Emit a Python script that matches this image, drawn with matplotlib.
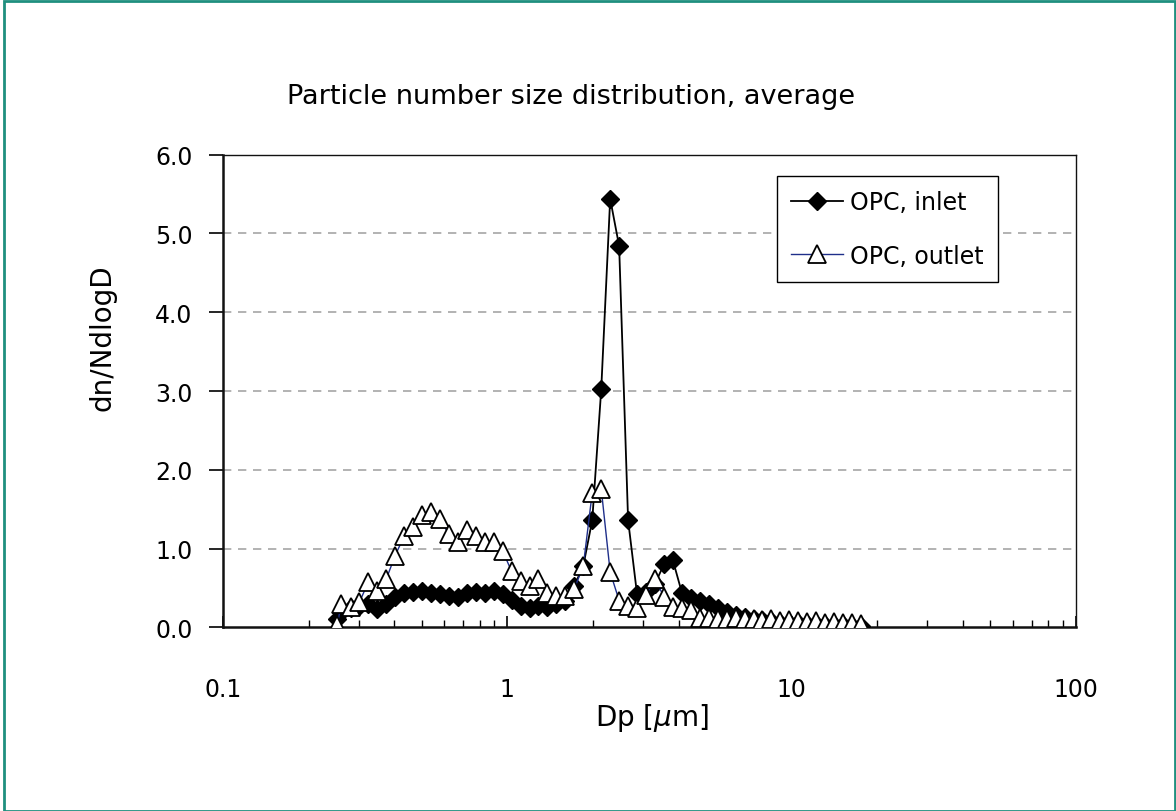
import matplotlib
matplotlib.use("Agg")
import matplotlib.pyplot as plt
from matplotlib.ticker import LogLocator, NullFormatter, FixedLocator, FixedFormatter
from matplotlib.patches import Rectangle

# Particle diameter channels [um]
dp = [0.252, 0.261, 0.281, 0.302, 0.324, 0.349, 0.375, 0.403, 0.434, 0.466,
      0.501, 0.539, 0.580, 0.623, 0.670, 0.721, 0.775, 0.833, 0.896, 0.963,
      1.035, 1.113, 1.197, 1.287, 1.384, 1.488, 1.600, 1.721, 1.850, 1.989,
      2.139, 2.300, 2.473, 2.659, 2.859, 3.074, 3.306, 3.554, 3.822, 4.110,
      4.419, 4.751, 5.109, 5.493, 5.907, 6.351, 6.829, 7.343, 7.895, 8.490,
      9.128, 9.815, 10.55, 11.35, 12.20, 13.12, 14.11, 15.17, 16.31, 17.54]

inlet = [0.11, 0.20, 0.25, 0.27, 0.30, 0.23, 0.30, 0.38, 0.44, 0.45,
         0.46, 0.44, 0.42, 0.40, 0.38, 0.43, 0.45, 0.44, 0.46, 0.42,
         0.35, 0.27, 0.25, 0.27, 0.26, 0.29, 0.34, 0.53, 0.78, 1.36,
         3.02, 5.44, 4.84, 1.36, 0.42, 0.45, 0.55, 0.80, 0.85, 0.44,
         0.37, 0.34, 0.30, 0.24, 0.20, 0.16, 0.13, 0.11, 0.09, 0.08,
         0.06, 0.05, 0.05, 0.04, 0.04, 0.03, 0.03, 0.03, 0.02, 0.02]

outlet = [0.03, 0.30, 0.26, 0.32, 0.57, 0.46, 0.61, 0.91, 1.16, 1.27,
          1.42, 1.46, 1.37, 1.18, 1.08, 1.23, 1.16, 1.08, 1.08, 0.97,
          0.71, 0.59, 0.53, 0.61, 0.44, 0.40, 0.40, 0.49, 0.78, 1.71,
          1.76, 0.70, 0.34, 0.27, 0.25, 0.41, 0.61, 0.39, 0.26, 0.24,
          0.22, 0.12, 0.12, 0.10, 0.11, 0.12, 0.10, 0.11, 0.09, 0.10,
          0.08, 0.09, 0.08, 0.07, 0.08, 0.06, 0.07, 0.06, 0.05, 0.04]

yticks = [0, 1, 2, 3, 4, 5, 6]
ytick_labels = ["0.0", "1.0", "2.0", "3.0", "4.0", "5.0", "6.0"]
xticks = [0.1, 1, 10, 100]
xtick_labels = ["0.1", "1", "10", "100"]

plt.rcParams['font.family'] = ['DejaVu Sans']

fig = plt.figure(figsize=(11.76, 8.12), dpi=100)
fig.patch.set_facecolor("white")
ax = fig.add_axes([223/1176, 1 - 628.3/812, (1076 - 223)/1176, (628.3 - 155.7)/812])

# outer teal border
fig.patches.append(Rectangle((0.003, 0.0), 0.996, 0.998, transform=fig.transFigure,
                             fill=False, edgecolor="#1f8f7f", linewidth=2))

ax.plot(dp, inlet, color="black", linewidth=1.3, marker="D", markersize=9,
        markerfacecolor="black", markeredgecolor="black",
        label="OPC, inlet", zorder=3)
ax.plot(dp, outlet, color="#1f2f8a", linewidth=1.0, marker="^", markersize=13.5,
        markerfacecolor="white", markeredgecolor="black", markeredgewidth=1.3,
        label="OPC, outlet", zorder=4)

ax.set_xscale("log")
ax.set_xlim(0.1, 100)
ax.set_ylim(0, 6)

ax.yaxis.set_major_locator(FixedLocator(yticks))
ax.yaxis.set_major_formatter(FixedFormatter(ytick_labels))
ax.xaxis.set_major_locator(FixedLocator(xticks))
ax.xaxis.set_major_formatter(FixedFormatter(xtick_labels))
ax.xaxis.set_minor_locator(LogLocator(base=10, subs=range(2, 10)))
ax.xaxis.set_minor_formatter(NullFormatter())

ax.tick_params(axis="x", which="major", direction="in", length=8, width=1.2,
               labelsize=17, pad=36, top=False)
ax.tick_params(axis="x", which="minor", direction="in", length=5, width=1.0, top=False)
ax.tick_params(axis="y", which="major", direction="out", length=10, width=1.2,
               labelsize=17, pad=12, right=False)

for yv in yticks[1:-1]:
    ax.axhline(yv, color="#a6a6a6", linewidth=1.2, linestyle=(0, (5, 4)), zorder=1)

ax.spines["left"].set_linewidth(1.8)
ax.spines["bottom"].set_linewidth(1.8)
ax.spines["top"].set_linewidth(1.0)
ax.spines["right"].set_linewidth(1.0)
for s in ax.spines.values():
    s.set_color("#111111")

ax.set_ylabel("dn/NdlogD", fontsize=20)
ax.yaxis.set_label_coords(-(223 - 116) / 853, 0.615)
ax.set_xlabel(r"Dp [$\mu$m]", fontsize=20)
ax.xaxis.set_label_coords((652 - 223) / 853, -(702 - 628.3) / 472.6)

fig.text(571/1176, 1 - 97/812, "Particle number size distribution, average",
         fontsize=19.5, ha="center", va="center")

leg = ax.legend(loc="upper left",
                bbox_to_anchor=((777 - 223) / 853, (628.3 - 177) / 472.6),
                fontsize=17, frameon=True, fancybox=False, framealpha=1,
                edgecolor="black", borderpad=0.6, handlelength=2.2,
                handletextpad=0.3, labelspacing=1.25, borderaxespad=0)
leg.get_frame().set_linewidth(1.0)

fig.savefig("out.png", dpi=100, facecolor="white")
